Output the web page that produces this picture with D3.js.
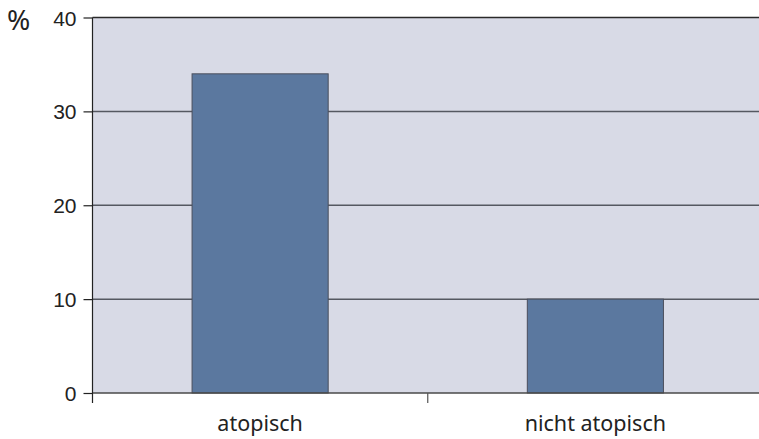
<!DOCTYPE html>
<html>
<head>
<meta charset="utf-8">
<script src="https://cdn.jsdelivr.net/npm/d3@7/dist/d3.min.js"></script>
<style>
  html, body { margin: 0; padding: 0; background: #ffffff; overflow: hidden; }
  svg { display: block; font-family: "Noto Sans", "Open Sans", sans-serif; }
</style>
</head>
<body>
<svg id="chart" width="759" height="439"></svg>
<script>
// Share of patients (%) by atopy status
const categories = ["atopisch", "nicht atopisch"];
const values = [34, 10];
const yTicks = [0, 10, 20, 30, 40];

const svg = d3.select("#chart");
const margin = { left: 92.5, top: 17.5, right: -4, bottom: 46 };
const W = 759, H = 439;

const x = d3.scaleBand()
  .domain(categories)
  .range([margin.left, W - margin.right])
  .paddingInner(0)
  .paddingOuter(0);

const y = d3.scaleLinear()
  .domain([0, 40])
  .range([H - margin.bottom, margin.top]);

const xEnd = x.range()[1];

// plot background
svg.append("rect")
  .attr("x", margin.left)
  .attr("y", y(40))
  .attr("width", xEnd - margin.left)
  .attr("height", y(0) - y(40))
  .attr("fill", "#d8dae6");

// horizontal gridlines
svg.append("g")
  .selectAll("line")
  .data(yTicks.filter(d => d > 0 && d < 40))
  .join("line")
  .attr("x1", margin.left)
  .attr("x2", xEnd)
  .attr("y1", d => y(d))
  .attr("y2", d => y(d))
  .attr("stroke", "#555861")
  .attr("stroke-width", 1.5);

// top border
svg.append("line")
  .attr("x1", margin.left).attr("x2", xEnd)
  .attr("y1", y(40)).attr("y2", y(40))
  .attr("stroke", "#2a2a2a").attr("stroke-width", 1.5);

// bars
const barW = x.bandwidth() * 0.406;
svg.append("g")
  .selectAll("rect")
  .data(categories.map((c, i) => ({ c, v: values[i] })))
  .join("rect")
  .attr("x", d => x(d.c) + (x.bandwidth() - barW) / 2)
  .attr("y", d => y(d.v))
  .attr("width", barW)
  .attr("height", d => y(0) - y(d.v))
  .attr("fill", "#5b789f")
  .attr("stroke", "#4a4e5c")
  .attr("stroke-width", 1);

// baseline
svg.append("line")
  .attr("x1", margin.left).attr("x2", xEnd)
  .attr("y1", y(0)).attr("y2", y(0))
  .attr("stroke", "#4a4a4a").attr("stroke-width", 1.5);

// y axis
const yAxis = d3.axisLeft(y)
  .tickValues(yTicks)
  .tickSize(9)
  .tickPadding(7)
  .tickFormat(d3.format("d"));
const gy = svg.append("g")
  .attr("transform", `translate(${margin.left},0)`)
  .call(yAxis);
gy.select(".domain").remove();
gy.selectAll(".tick line").attr("stroke", "#222").attr("stroke-width", 1.2);
gy.selectAll(".tick text")
  .attr("fill", "#222")
  .attr("font-size", 21)
  .attr("dy", "0.36em");

// y axis line extending below the baseline
svg.append("line")
  .attr("x1", margin.left).attr("x2", margin.left)
  .attr("y1", y(40)).attr("y2", y(0) + 10)
  .attr("stroke", "#222").attr("stroke-width", 1.2);

// category labels
svg.append("g")
  .selectAll("text")
  .data(categories)
  .join("text")
  .attr("x", d => x(d) + x.bandwidth() / 2)
  .attr("y", y(0) + 38)
  .attr("text-anchor", "middle")
  .attr("fill", "#222")
  .attr("font-size", 21.5)
  .text(d => d);

// separator tick between the two categories
svg.append("line")
  .attr("x1", x(categories[1])).attr("x2", x(categories[1]))
  .attr("y1", y(0)).attr("y2", y(0) + 10)
  .attr("stroke", "#555").attr("stroke-width", 1.2);

// unit label
svg.append("text")
  .attr("x", 7)
  .attr("y", 30)
  .attr("font-size", 28)
  .attr("fill", "#222")
  .text("%");
</script>
</body>
</html>
